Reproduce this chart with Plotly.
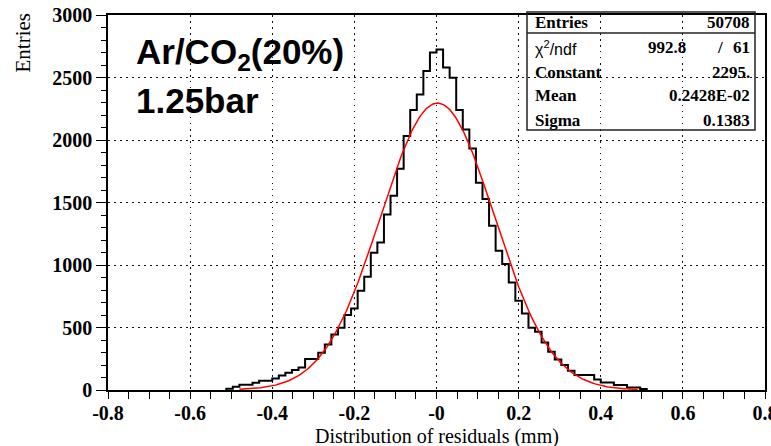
import numpy as np
import plotly.graph_objects as go

# ---- data ----
bin_lo = -0.512          # lower edge of first non-empty bin
bin_width = 0.016        # 100 bins over [-0.8, 0.8]
counts = [11, 27, 43, 43, 59, 75, 75, 93, 117, 139, 160, 181, 248, 248, 299, 365,
          445, 499, 600, 653, 795, 907, 1099, 1181, 1405, 1555, 1770, 2032, 2240, 2365,
          2552, 2701, 2725, 2581, 2499, 2240, 2085, 1933, 1659, 1528, 1315, 1115, 1008,
          861, 715, 613, 499, 467, 381, 307, 245, 200, 155, 120, 120, 120, 85, 61, 61,
          40, 40, 21, 21, 8]

# Gaussian fit parameters (from the stats box)
fit_constant = 2295.0
fit_mean = 0.2428e-02
fit_sigma = 0.1383
fit_xmin, fit_xmax = -0.48, 0.49

x_tickvals = [-0.8, -0.6, -0.4, -0.2, 0.0, 0.2, 0.4, 0.6, 0.8]
x_ticktext = ["-0.8", "-0.6", "-0.4", "-0.2", "-0", "0.2", "0.4", "0.6", "0.8"]
y_tickvals = [0, 500, 1000, 1500, 2000, 2500, 3000]

stats_labels = ["Entries", "χ<sup>2</sup>/ndf", "Constant", "Mean", "Sigma"]
stats_values = ["50708", None, "2295.", "0.2428E-02", "0.1383"]
chi2_value, ndf_value = "992.8", "61"

# ---- build traces ----
n = len(counts)
edges = [bin_lo + bin_width * i for i in range(n + 1)]
hx = [edges[0]] + edges[:n] + [edges[n]]
hy = [0] + counts + [0]

fx = np.linspace(fit_xmin, fit_xmax, 300)
fy = fit_constant * np.exp(-0.5 * ((fx - fit_mean) / fit_sigma) ** 2)

fig = go.Figure()
fig.add_trace(go.Scatter(x=hx, y=hy, mode="lines", line=dict(color="black", width=2, shape="hv"),
                         hoverinfo="skip", showlegend=False))
fig.add_trace(go.Scatter(x=fx, y=fy, mode="lines", line=dict(color="#ff0000", width=1.5),
                         hoverinfo="skip", showlegend=False))

# pixel -> paper helpers (plot area: x 108..765, y 15..390)
L, R, T, B = 108, 765, 15, 390
def px(x):
    return (x - L) / (R - L)
def py(y):
    return (B - y) / (B - T)

tickfont = dict(family="Liberation Serif", size=20, color="black", weight="bold")
grid = dict(showgrid=True, gridcolor="#111", gridwidth=1.3, griddash="1.5px,4.5px")

fig.update_layout(
    width=771, height=446,
    margin=dict(l=L, r=771 - R, t=T, b=446 - B, autoexpand=False),
    paper_bgcolor="white", plot_bgcolor="white",
    xaxis=dict(range=[-0.8, 0.8], tickmode="array", tickvals=x_tickvals, ticktext=x_ticktext,
               ticks="outside", ticklen=7, tickwidth=1.2, tickcolor="black",
               showline=True, linecolor="black", linewidth=1.5, mirror=True,
               zeroline=False, tickfont=tickfont, ticklabeloverflow="allow",
               automargin=False, ticklabelstandoff=-3,
               minor=dict(tickmode="linear", tick0=-0.8, dtick=0.05, ticks="outside",
                          ticklen=7, tickwidth=1.2, tickcolor="black", showgrid=False),
               **grid),
    yaxis=dict(range=[0, 3000], tickmode="array", tickvals=y_tickvals,
               ticks="outside", ticklen=10, tickwidth=1.2, tickcolor="black",
               showline=True, linecolor="black", linewidth=1.5, mirror=True,
               zeroline=False, tickfont=tickfont, automargin=False,
               minor=dict(tickmode="linear", tick0=0, dtick=100, ticks="outside",
                          ticklen=5, tickwidth=1.2, tickcolor="black", showgrid=False),
               **grid),
)

ann = []
# axis titles
ann.append(dict(text="Distribution of residuals (mm)", x=px(437), y=py(436), xref="paper", yref="paper",
                xanchor="center", yanchor="middle", showarrow=False,
                font=dict(family="Liberation Serif", size=20, color="black")))
ann.append(dict(text="Entries", x=px(22), y=py(12), xref="paper", yref="paper", textangle=-90,
                xanchor="center", yanchor="top", showarrow=False,
                font=dict(family="Liberation Serif", size=21, color="black")))
# big label
bigfont = dict(family="Liberation Sans", size=35, color="black", weight="bold")
ann.append(dict(text="Ar/CO<sub>2</sub>(20%)", x=px(134), y=py(54), xref="paper", yref="paper",
                xanchor="left", yanchor="middle", showarrow=False, font=bigfont))
ann.append(dict(text="1.25bar", x=px(134), y=py(100), xref="paper", yref="paper",
                xanchor="left", yanchor="middle", showarrow=False, font=bigfont))

# stats box
box_l, box_r, box_t, box_b, box_sep = 527, 755, 12, 130, 33
row_y = [23, 48, 72, 96, 120]
sfont = dict(family="Liberation Serif", size=17, color="black", weight="bold")
for i, lab in enumerate(stats_labels):
    f = sfont if i != 1 else dict(family="Liberation Sans", size=16, color="black")
    ann.append(dict(text=lab, x=px(533), y=py(row_y[i]), xref="paper", yref="paper",
                    xanchor="left", yanchor="middle", showarrow=False, font=f))
    if stats_values[i] is not None:
        ann.append(dict(text=stats_values[i], x=px(752), y=py(row_y[i]), xref="paper", yref="paper",
                        xanchor="right", yanchor="middle", showarrow=False, font=sfont))
ann.append(dict(text=chi2_value, x=px(688), y=py(row_y[1]), xref="paper", yref="paper",
                xanchor="right", yanchor="middle", showarrow=False, font=sfont))
ann.append(dict(text="/", x=px(720), y=py(row_y[1]), xref="paper", yref="paper",
                xanchor="center", yanchor="middle", showarrow=False, font=sfont))
ann.append(dict(text=ndf_value, x=px(752), y=py(row_y[1]), xref="paper", yref="paper",
                xanchor="right", yanchor="middle", showarrow=False, font=sfont))
fig.update_layout(annotations=ann)

fig.update_layout(shapes=[
    dict(type="rect", xref="paper", yref="paper", x0=px(box_l), x1=px(box_r), y0=py(box_b), y1=py(box_t),
         line=dict(color="#222", width=1.5), fillcolor="rgba(0,0,0,0)", layer="above"),
    dict(type="line", xref="paper", yref="paper", x0=px(box_l), x1=px(box_r), y0=py(box_sep), y1=py(box_sep),
         line=dict(color="#222", width=1.5), layer="above"),
])

fig.write_html("out.html")
